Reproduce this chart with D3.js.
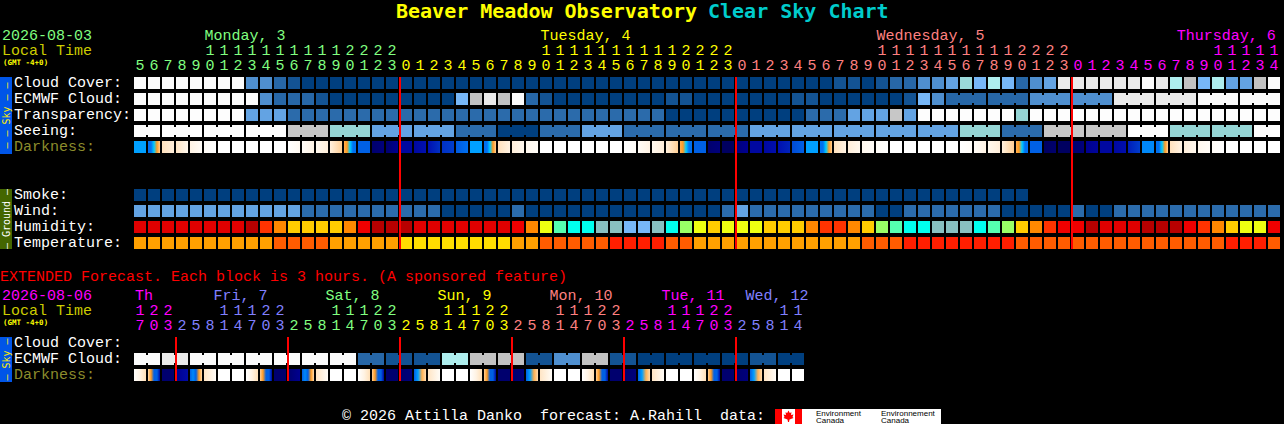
<!DOCTYPE html>
<html><head><meta charset="utf-8">
<style>
html,body{margin:0;padding:0;background:#000;overflow:hidden}
svg{display:block}
text{font-family:"Liberation Mono",monospace;white-space:pre;font-size:15px}
.title{font-family:"DejaVu Sans Mono",monospace;font-weight:bold;font-size:20px}
.small{font-family:"DejaVu Sans Mono",monospace;font-weight:bold;font-size:7.5px}
.side{font-family:"DejaVu Sans Mono",monospace;font-size:10px}
.logo{font-family:"Liberation Sans",sans-serif;font-size:8px}
rect{shape-rendering:crispEdges}
</style>
<script src="https://cdnjs.cloudflare.com/ajax/libs/d3/7.8.5/d3.min.js"></script>
</head><body>
<script>
// ---------- hours (local time) ----------
const mainHours=[5,6,7,8,9,10,11,12,13,14,15,16,17,18,19,20,21,22,23,
0,1,2,3,4,5,6,7,8,9,10,11,12,13,14,15,16,17,18,19,20,21,22,23,
0,1,2,3,4,5,6,7,8,9,10,11,12,13,14,15,16,17,18,19,20,21,22,23,
0,1,2,3,4,5,6,7,8,9,10,11,12,13,14];
const extHours=[17,20,23,
2,5,8,11,14,17,20,23,
2,5,8,11,14,17,20,23,
2,5,8,11,14,17,20,23,
2,5,8,11,14,17,20,23,
2,5,8,11,14,17,20,23,
2,5,8,11,14];
const mainDayColors=["#80ff80","#ffff00","#ff8080","#ff00ff"];
const extDayColors=["#ff00ff","#8080ff","#80ff80","#ffff00","#ff8080","#ff00ff","#8080ff"];
const mainDays=["Monday, 3","Tuesday, 4","Wednesday, 5","Thursday, 6"];
const mainDayIdx=[5,29,53,74.45];
const extDays=["Th","Fri, 7","Sat, 8","Sun, 9","Mon, 10","Tue, 11","Wed, 12"];
const extDayIdx=[0,5.6,13.6,21.6,29.6,37.6,43.6];
const skyLabels=["Cloud Cover:","ECMWF Cloud:","Transparency:","Seeing:","Darkness:"];
const groundLabels=["Smoke:","Wind:","Humidity:","Temperature:"];
const extLabels=["Cloud Cover:","ECMWF Cloud:","Darkness:"];

// ---------- forecast rows ----------
const cloud=[100,100,100,100,100,100,100,100,30,30,20,10,0,0,0,0,0,0,0,0,0,0,0,0,0,0,0,0,0,0,0,0,0,0,0,0,0,0,0,0,0,0,0,0,0,0,0,0,0,0,10,10,
0,10,20,20,30,30,40,60,50,70,50,20,30,40,90,90,90,90,90,90,100,90,70,80,50,70,40,40,80,100];
const ecmwf=[100,100,100,100,100,100,100,100,100,30,20,20,20,10,0,0,0,0,0,0,0,0,0,50,80,90,80,100,20,10,0,0,0,0,0,0,0,0,10,10,0,0,0,0,0,0,0,10,10,0,0,0,
0,0,0,10,50,30,20,20,20,20,20,20,30,30,30,30,30,30,90,90,90,90,90,90,100,100,100,100,100,100];
const transparency=[5,5,5,5,5,5,5,5,2,2,2,1,1,1,1,1,1,1,1,1,1,1,1,1,1,1,1,1,1,1,1,1,1,1,1,1,1,1,0,0,0,0,0,0,0,0,0,0,1,1,1,2,
2,2,4,2,5,5,5,5,5,5,5,3,5,5,5,5,5,5,5,5,5,5,5,5,5,5,5,5,5,5];
const seeing=[5,5,5,5,5,5,5,5,5,5,5,4,4,4,3,3,3,2,2,2,2,2,2,1,1,1,0,0,0,1,1,1,2,2,2,1,1,1,1,1,1,1,1,1,2,2,2,2,2,2,2,2,2,
2,2,2,2,2,2,3,3,3,1,1,1,4,4,4,4,4,4,5,5,5,3,3,3,3,3,3,5,5];
const seeingBlocks=[2,3,3,3,3,3,3,3,3,3,3,3,3,3,3,3,3,3,3,3,3,3,3,3,3,3,3,2];
const ecmwfJoinedBlocks=[[58,3],[61,3],[64,3],[67,3],[70,3],[73,3],[76,3],[79,3]];
// limiting magnitude samples across each hour block
const darkness=[[1.5],[2.5,2.5,.5,0,-.8],[-1.3,-2],[-1.5,-3],[-2.5,-3.5],[-3.5,-4],[-4],[-4],[-4],[-4],[-4],[-4,-3.2],[-3.5,-2.5],[-3,-2],[-2.2,-.8],[-.3,0,.5,2.5,2.5],[3,3],[6,5.8],[6,5.5],[5,5],[5,4.5],
[4.5,4],[4,3.8],[3.2,2.5],[1.5],[2.5,2.5,.5,0,-.8],[-1.3,-2.5],[-2,-3],[-3,-3.5],[-4],[-4],[-4],[-4],[-4],[-4],[-4,-3.5],[-3.5,-2.5],[-3,-2],[-2.2,-.8],[-.3,0,.5,2.5,2.5],[3,3],[6,5.8],[6.2,6.2],[5.8,5.5],[5,5],[5,4.6],[4.5,4.2],[3.6,3],[1.5],[2.5,2.5,.5,0,-.8],[-1.3,-2.5],[-2,-3],
[-3,-3.5],[-3.5,-4],[-4],[-4],[-4],[-4],[-4],[-4,-3.5],[-3.5,-2.5],[-3,-2],[-2.2,-.8],[-.3,0,.5,2.5,2.5],[3,3],[6.2,6],[6.2,6.2],[6,5.8],[5.5,5.2],[5,5],[5,4.6],[4.3,3.8],[2,2],[2.5,2.5,.5,0,-.8],[-1.3,-2.5],[-2,-3],[-3,-3.5],[-3.5,-4],[-4],[-4],[-4],[-4]];
const smoke=Array.from("0000000000000000000000000000000000000000000000000000000000000000",Number);
const wind=[2,2,2,2,2,2,2,2,2,2,2,2,1,1,1,1,1,1,1,1,1,1,0,0,0,0,0,1,0,0,0,0,0,0,0,0,0,0,0,0,0,0,1,2,1,1,1,1,1,1,1,1,
1,0,0,1,1,1,1,1,1,1,0,0,0,0,0,1,0,0,1,1,1,1,1,1,1,1,1,1,1,1];
const humidity=[90,90,90,90,90,90,90,90,95,80,75,70,70,70,70,75,85,95,95,95,90,90,90,90,90,90,90,85,75,65,55,50,50,45,45,40,40,45,50,60,65,70,65,65,65,70,70,70,75,80,80,75,
70,60,55,50,50,45,45,45,50,55,60,70,75,80,85,85,95,90,90,90,95,95,95,85,80,75,70,65,65,85];
const temperature=[18,18,18,18,18,18,18,18,18,18,23,23,23,23,18,18,18,18,18,14,14,14,14,14,14,14,14,18,18,23,23,23,23,23,27,27,27,27,23,23,18,18,18,18,18,18,18,18,18,18,18,18,
23,23,23,27,27,27,27,27,27,27,27,23,23,23,23,23,23,23,23,23,23,23,23,23,23,23,27,27,27,23];
// extended rows: one cell per 3 hours, value pairs
const extCloudPairs=[100,90,100,100,100,100,100,100,20,10,10,70,80,80,10,30,80,10,0,0,0,0,10,0];
const extDarkness=[[-3.8,-2.5,-1.2],[-1,0,3,3,5],[6,6],[5.5,4.8],[3,2,3,0,-1],[-1.5,-3.5],[-4],[-4],[-4,-2.5,-1.2],[-.8,0,3,3,5],[6,6],[6,5.5],[3,2,3,0,-1],[-1.5,-3.5],[-4],[-4],[-4,-2.5,-1.2],[-.8,0,3,3,5],[6,6],[6,5.8],[3,1.5,-.3,-1],[-1.5,-3.5],[-4],[-4],[-4,-2.5,-1.2],[-.8,0,3,3,5],[6,6],[6,5.8],[3,1.5,-.3,-1],[-1.5,-3.5],[-4],[-4],[-4,-2.5,-1.2],[-.8,0,3,3,5],[6,6],[6,5.8],[3,1.5,-.3,-1],[-1.5,-3.5],[-4],[-4],[-4,-2.5,-1.2],[-.8,0,3,3,5],[6,6],[6,5.8],[3,1.5,-.3,-1],[-1.5,-3.5],[-4],[-4]];

// ---------- palettes ----------
const cloudScale=d3.scaleOrdinal([0,10,20,30,40,50,60,70,80,90,100],["#003f7f","#135393","#2767a7","#4f8fcf","#63a3e3","#77b7f7","#9adada","#aeeeee","#c2c2c2","#eaeaea","#fbfbfb"]);
const qualScale=d3.scaleOrdinal([0,1,2,3,4,5],["#003f7f","#2b6bab","#63a3e3","#95d5d5","#c7c7c7","#fdfdfd"]);
const windScale=d3.scaleOrdinal([0,1,2],["#003f7f","#2b6bab","#63a3e3"]);
const humScale=d3.scaleOrdinal([40,45,50,55,60,65,70,75,80,85,90,95],["#77b7f7","#88c0c0","#00ffee","#55ffb0","#99ff66","#eeff11","#ffcc00","#ff8800","#ff3300","#f00000","#e00000","#b80000"]);
const tempScale=d3.scaleOrdinal([14,18,23,27],["#ffdd00","#ffa000","#ff5c00","#ff1e00"]);
const darkScale=d3.scaleLinear()
 .domain([-4,-3,-2,-1,-.3,0,.5,1.5,2.5,3.5,4.5,5.5,6.2,6.5])
 .range(["#ffffff","#fff8ee","#ffeeda","#ffdcb0","#ffb050","#ff9a20","#00ccff","#00a0ff","#0070f0","#0050d8","#0010b0","#000090","#000060","#000040"]);

// ---------- layout scales ----------
const W=1284,H=424;
const x=d3.scaleLinear().domain([0,1]).range([134,148]);
const cell=12;
const rowY=d3.scaleLinear().domain([0,1]).range([77,93]);
const groundY=d3.scaleLinear().domain([0,1]).range([189,205]);
const extY=d3.scaleLinear().domain([0,1]).range([337,353]);

const svg=d3.select("body").append("svg").attr("width",W).attr("height",H);
svg.append("rect").attr("width",W).attr("height",H).attr("fill","#000");
const defs=svg.append("defs");

function text(t,px,py,fill,cls){
  const s=svg.append("text").attr("x",px).attr("y",py).attr("fill",fill).text(t);
  if(cls)s.attr("class",cls);return s;
}
function row(values,y,scale){
  svg.append("g").selectAll("rect").data(values).join("rect")
   .attr("x",(d,i)=>x(i)).attr("y",y).attr("width",cell).attr("height",cell).attr("fill",d=>scale(d));
}
function bridges(blocks,values,y,scale){
  const g=svg.append("g");
  blocks.forEach(([start,len])=>{
    d3.range(start,start+len-1).forEach(i=>{
      g.append("rect").attr("x",x(i)+cell).attr("y",y+2).attr("width",x(1)-x(0)-cell).attr("height",cell-4).attr("fill",scale(values[i]));
    });
  });
}
let gid=0;
function darkRow(values,y){
  values.forEach((v,i)=>{
    const id="dg"+(gid++);
    const g=defs.append("linearGradient").attr("id",id);
    const p=d3.scaleLinear().domain([0,Math.max(1,v.length-1)]).range([0,100]);
    v.forEach((m,k)=>g.append("stop").attr("offset",p(k)+"%").attr("stop-color",darkScale(m)));
    svg.append("rect").attr("x",x(i)).attr("y",y).attr("width",cell).attr("height",cell).attr("fill",`url(#${id})`);
  });
}
function hoursAxis(hours,colors,yTens,yUnits){
  let day=0;
  hours.forEach((h,i)=>{
    if(i>0&&h<hours[i-1])day++;
    const c=colors[day];
    if(h>=10)text(String(Math.floor(h/10)),x(i)+1.5,yTens,c);
    text(String(h%10),x(i)+1.5,yUnits,c);
  });
}
function side(label,y0,y1,fill,color){
  svg.append("rect").attr("x",0).attr("y",y0).attr("width",12).attr("height",y1-y0).attr("fill",fill);
  const cy=(y0+y1)/2;
  svg.append("text").attr("class","side").attr("fill",color).attr("text-anchor","middle")
    .attr("transform",`translate(9.5,${cy}) rotate(-90)`).text(label);
}

// ---------- title ----------
text("Beaver Meadow Observatory",396,18,"#ffff00","title");
text("Clear Sky Chart",708,18,"#00cccc","title");

// ---------- main header ----------
text("2026-08-03",2,40,"#80ff80");
text("Local Time",2,55,"#cccc00");
text("(GMT -4+0)",3,65,"#ffff00","small");
mainDays.forEach((d,i)=>text(d,x(mainDayIdx[i])+.5,40,mainDayColors[i]));
hoursAxis(mainHours,mainDayColors,55,70);

// ---------- main rows ----------
side("— — Sky — —",77,154,"#0055e8","#ffee00");
side("— Ground —",189,249,"#446600","#ffffff");
skyLabels.forEach((l,i)=>text(l,14,rowY(i)+9.5,l==="Darkness:"?"#8c8c2c":"#ffffff"));
groundLabels.forEach((l,i)=>text(l,14,groundY(i)+9.5,"#ffffff"));

row(cloud,rowY(0),cloudScale);
row(ecmwf,rowY(1),cloudScale);
bridges(ecmwfJoinedBlocks,ecmwf,rowY(1),cloudScale);
row(transparency,rowY(2),qualScale);
row(seeing,rowY(3),qualScale);
let st=0;const seeingSpans=seeingBlocks.map(n=>{const b=[st,n];st+=n;return b;});
bridges(seeingSpans,seeing,rowY(3),qualScale);
darkRow(darkness,rowY(4));
row(smoke,groundY(0),windScale);
row(wind,groundY(1),windScale);
row(humidity,groundY(2),humScale);
row(temperature,groundY(3),tempScale);

// midnight markers
const mainMidnights=mainHours.map((h,i)=>h===0?i:-1).filter(i=>i>=0);
svg.append("g").selectAll("rect").data(mainMidnights).join("rect")
 .attr("x",d=>x(d)-1).attr("y",77).attr("width",2).attr("height",172).attr("fill","#ff0000");

// ---------- extended ----------
text("EXTENDED Forecast. Each block is 3 hours. (A sponsored feature)",0,281,"#ff0000");
text("2026-08-06",2,300,"#ff00ff");
text("Local Time",2,315,"#cccc00");
text("(GMT -4+0)",3,325,"#ffff00","small");
extDays.forEach((d,i)=>text(d,x(extDayIdx[i])+1,300,extDayColors[i]));
hoursAxis(extHours,extDayColors,315,330);
side("— Sky —",337,382,"#0055e8","#ffee00");
extLabels.forEach((l,i)=>text(l,14,extY(i)+9.5,l==="Darkness:"?"#8c8c2c":"#ffffff"));
const extCloud=extCloudPairs.flatMap(v=>[v,v]);
row(extCloud,extY(1),cloudScale);
bridges(extCloudPairs.map((v,k)=>[k*2,2]),extCloud,extY(1),cloudScale);
darkRow(extDarkness,extY(2));
const extMidnights=extHours.map((h,i)=>(i>0&&h<extHours[i-1])?i:-1).filter(i=>i>=0);
svg.append("g").selectAll("rect").data(extMidnights).join("rect")
 .attr("x",d=>x(d)-1).attr("y",337).attr("width",2).attr("height",44).attr("fill","#ff0000");

// ---------- footer ----------
text("© 2026 Attilla Danko  forecast: A.Rahill  data:",342,420,"#ffffff");
svg.append("rect").attr("x",775).attr("y",409).attr("width",166).attr("height",15).attr("fill","#fff");
svg.append("rect").attr("x",775).attr("y",409).attr("width",7).attr("height",15).attr("fill","#f00");
svg.append("rect").attr("x",795).attr("y",409).attr("width",7).attr("height",15).attr("fill","#f00");
svg.append("path").attr("transform","translate(788.5,416)").attr("fill","#f00")
  .attr("d","M0,-5.5 L1.3,-3 L3,-3.8 L2.5,-1 L5,-1.5 L4,1 L5,2 L1,3.5 L.5,6 L-.5,6 L-1,3.5 L-5,2 L-4,1 L-5,-1.5 L-2.5,-1 L-3,-3.8 L-1.3,-3Z");
[["Environment",816],["Environnement",881]].forEach(([t,px])=>text(t,px,416,"#000","logo"));
[["Canada",816],["Canada",881]].forEach(([t,px])=>text(t,px,423,"#000","logo"));
</script>
</body></html>
